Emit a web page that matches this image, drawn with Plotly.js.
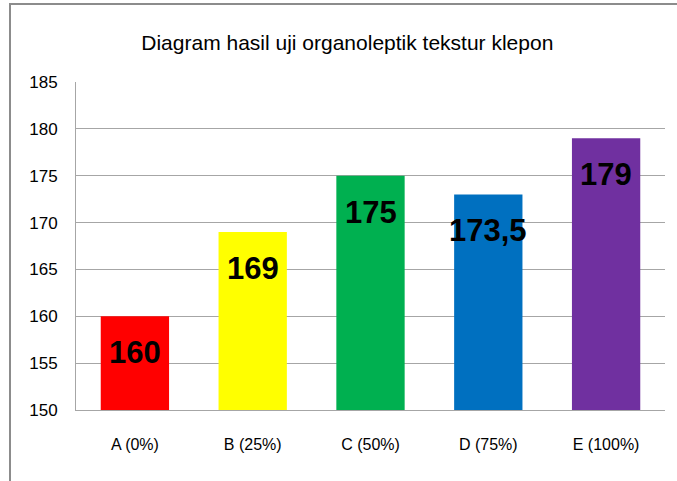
<!DOCTYPE html>
<html>
<head>
<meta charset="utf-8">
<script src="https://cdn.plot.ly/plotly-3.0.1.min.js"></script>
<style>
html,body{margin:0;padding:0;background:#fff;}
#chart{position:absolute;left:0;top:0;width:677px;height:481px;}
#frame{position:absolute;left:9px;top:3px;width:700px;height:500px;border-left:2px solid #8c8c8c;border-top:2px solid #8c8c8c;pointer-events:none;}
</style>
</head>
<body>
<div id="chart"></div>
<div id="frame"></div>
<script>
const categories = ["A (0%)", "B (25%)", "C (50%)", "D (75%)", "E (100%)"];
const values = [160, 169, 175, 173, 179];
const labels = ["160", "169", "175", "173,5", "179"];
const colors = ["#ff0000", "#ffff00", "#00b050", "#0070c0", "#7030a0"];
const yTicks = [150, 155, 160, 165, 170, 175, 180, 185];
const axisMin = 150;

const FONT = "Liberation Sans, Arial, sans-serif";

const trace = {
  type: "bar",
  x: categories,
  y: values.map(v => v - axisMin),
  base: axisMin,
  marker: {color: colors, line: {width: 0}},
  hoverinfo: "none"
};

const annotations = categories.map((c, i) => ({
  x: c, y: values[i], xref: "x", yref: "y",
  text: labels[i], showarrow: false,
  yanchor: "top", yshift: -17,
  font: {family: FONT, size: 31, color: "#000", weight: "bold"}
}));

const layout = {
  width: 677, height: 481,
  margin: {l: 76, r: 12, t: 82, b: 71},
  paper_bgcolor: "#fff", plot_bgcolor: "#fff",
  showlegend: false,
  bargap: 0.42,
  title: {text: "Diagram hasil uji organoleptik tekstur klepon", x: 0.513, xanchor: "center", y: 0.912, yanchor: "middle",
          font: {family: FONT, size: 21, color: "#000"}},
  xaxis: {type: "category", showgrid: false, showline: true, linecolor: "#a6a6a6", linewidth: 1,
          ticks: "", tickfont: {family: FONT, size: 16, color: "#000"}, ticklabelstandoff: 20, fixedrange: true},
  yaxis: {range: [axisMin, 185], tickvals: yTicks, ticktext: yTicks.map(String), showgrid: true, gridcolor: "#a6a6a6", gridwidth: 1,
          showline: true, linecolor: "#a6a6a6", linewidth: 1, zeroline: false, ticks: "",
          tickfont: {family: FONT, size: 17, color: "#000"}, ticklabelstandoff: 14, fixedrange: true},
  annotations: annotations
};

Plotly.newPlot("chart", [trace], layout, {displayModeBar: false, staticPlot: true});
</script>
</body>
</html>
